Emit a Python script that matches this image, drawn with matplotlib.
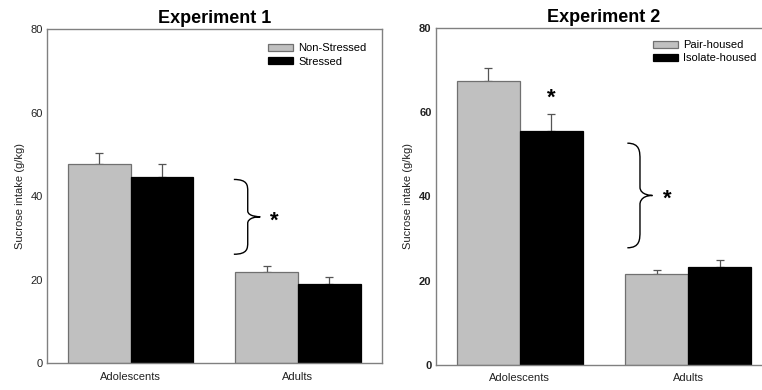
import matplotlib.pyplot as plt
from matplotlib.path import Path
from matplotlib.patches import PathPatch
import numpy as np

plt.rcParams['font.family'] = ['Liberation Sans', 'DejaVu Sans']

groups = ['Adolescents', 'Adults']
yticks = [0, 20, 40, 60, 80]

exp1_title = 'Experiment 1'
exp1_labels = ['Non-Stressed', 'Stressed']
exp1_means = [[47.6, 21.9], [44.7, 19.0]]
exp1_errs = [[2.8, 1.5], [2.9, 1.7]]
exp1_brace = (26.1, 44.0)

exp2_title = 'Experiment 2'
exp2_labels = ['Pair-housed', 'Isolate-housed']
exp2_means = [[67.4, 21.5], [55.6, 23.2]]
exp2_errs = [[3.0, 1.0], [3.9, 1.6]]
exp2_brace = (27.8, 52.6)
exp2_star_y = 64.3

colors = ['#c0c0c0', '#000000']
edges = ['#707070', '#000000']
spine_col = '#808080'
BW = 0.375


def draw_brace(ax, x0, x1, x2, ylo, yhi):
    # curly brace opening to the left, tip at x2
    ymid = (ylo + yhi) / 2.0
    r = (yhi - ylo) * 0.08
    verts = [
        (x0, yhi), (x1, yhi), (x1, yhi - r), (x1, yhi - 2 * r),
        (x1, ymid + r),
        (x1, ymid), (x2, ymid), (x2, ymid),
        (x1, ymid), (x1, ymid - r), (x1, ymid - r),
        (x1, ylo + 2 * r),
        (x1, ylo + r), (x1, ylo), (x0, ylo),
    ]
    codes = [Path.MOVETO, Path.CURVE4, Path.CURVE4, Path.CURVE4,
             Path.LINETO,
             Path.CURVE4, Path.CURVE4, Path.CURVE4,
             Path.CURVE4, Path.CURVE4, Path.CURVE4,
             Path.LINETO,
             Path.CURVE4, Path.CURVE4, Path.CURVE4]
    ax.add_patch(PathPatch(Path(verts, codes), facecolor='none',
                           edgecolor='black', lw=1.0))


def star(ax, x, y):
    ax.annotate('*', (x, y), xytext=(0, -3), textcoords='offset points',
                fontsize=16, fontweight='bold', ha='center', va='center')


def panel(ax, title, labels, means, errs, bold_ticks=False):
    x = np.arange(len(groups))
    for i in range(2):
        pos = x + (i - 0.5) * BW
        ax.bar(pos, means[i], BW, color=colors[i], edgecolor=edges[i],
               linewidth=0.9, label=labels[i], zorder=2)
        ax.errorbar(pos, means[i], yerr=[np.zeros(len(groups)), errs[i]],
                    fmt='none', ecolor='#555555', elinewidth=0.9,
                    capsize=3, capthick=0.9, zorder=1)
    ax.set_xlim(-0.5, 1.5)
    ax.set_ylim(0, 80)
    ax.set_yticks(yticks)
    ax.set_xticks(x)
    ax.set_xticklabels(groups)
    ax.tick_params(length=0, labelsize=8, colors='#222222')
    ax.tick_params(axis='y', pad=3)
    ax.tick_params(axis='x', pad=6)
    if bold_ticks:
        for t in ax.get_yticklabels():
            t.set_fontweight('bold')
    for s in ax.spines.values():
        s.set_color(spine_col)
        s.set_linewidth(1.0)
    ax.set_ylabel('Sucrose intake (g/kg)', fontsize=8, color='#222222',
                  labelpad=4)
    ax.set_title(title, fontsize=13, fontweight='bold', pad=4)


fig = plt.figure(figsize=(7.62, 3.9), dpi=100)
ax1 = fig.add_axes([0.0617, 0.0685, 0.439, 0.857])
ax2 = fig.add_axes([0.5718, 0.0641, 0.442, 0.865])

panel(ax1, exp1_title, exp1_labels, exp1_means, exp1_errs)
ax1.legend(loc='upper left', bbox_to_anchor=(0.662, 0.957), frameon=False,
           fontsize=8, handlelength=2.25, handleheight=0.63,
           handletextpad=0.45, labelspacing=0.3, borderpad=0,
           borderaxespad=0)
draw_brace(ax1, 0.617, 0.70, 0.775, exp1_brace[0], exp1_brace[1])
star(ax1, 0.86, sum(exp1_brace) / 2)

panel(ax2, exp2_title, exp2_labels, exp2_means, exp2_errs, bold_ticks=True)
ax2.legend(loc='upper left', bbox_to_anchor=(0.646, 0.963), frameon=False,
           fontsize=8, handlelength=2.25, handleheight=0.63,
           handletextpad=0.45, labelspacing=0.3, borderpad=0,
           borderaxespad=0)
draw_brace(ax2, 0.638, 0.713, 0.787, exp2_brace[0], exp2_brace[1])
star(ax2, 0.875, sum(exp2_brace) / 2)
star(ax2, BW / 2, exp2_star_y)

fig.savefig('out.png', dpi=100)
